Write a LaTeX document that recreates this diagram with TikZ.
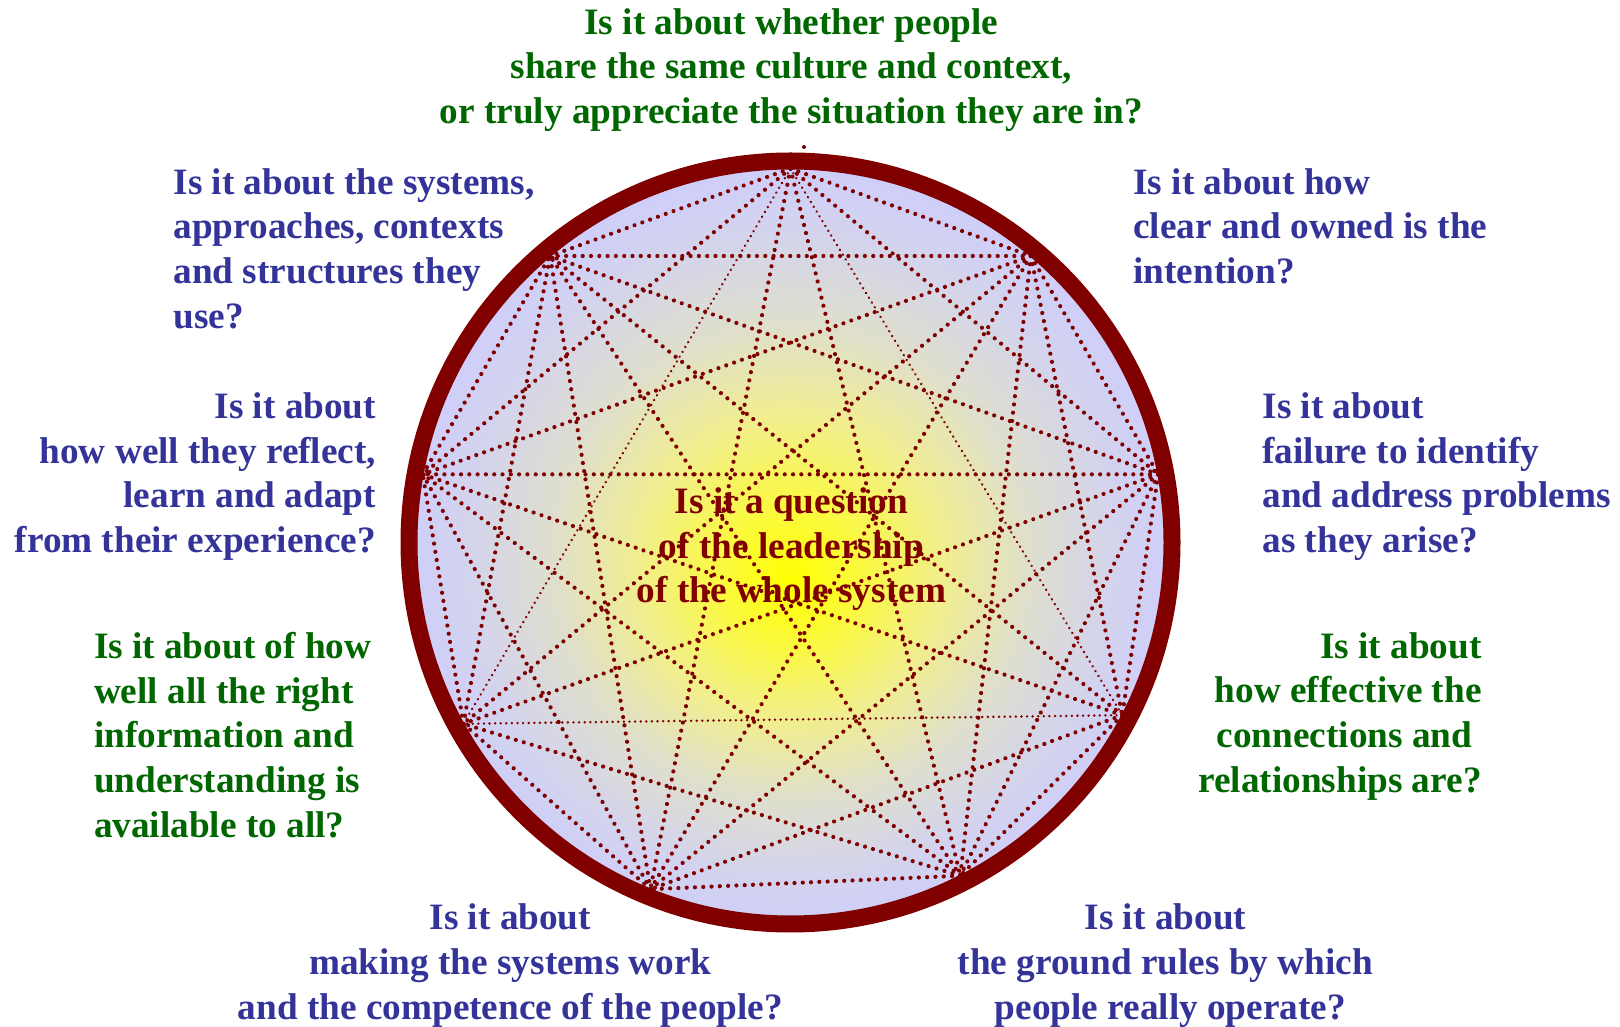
\documentclass[tikz,border=0pt]{standalone}
\usepackage{fontspec}
\setmainfont{Liberation Serif}
\usetikzlibrary{calc,decorations.markings}
\definecolor{maroonc}{RGB}{128,0,0}
\definecolor{qblue}{RGB}{51,51,153}
\definecolor{qgreen}{RGB}{0,102,0}
\pgfdeclareradialshading{glow}{\pgfpoint{0bp}{-40bp}}{rgb(0bp)=(1,1,0); rgb(75bp)=(0.98,0.975,0.27); rgb(150bp)=(0.945,0.935,0.55); rgb(235bp)=(0.875,0.875,0.80); rgb(320bp)=(0.83,0.83,0.93); rgb(400bp)=(0.8,0.8,1); rgb(450bp)=(0.8,0.8,1)}
\tikzset{
  chord/.style={decorate, decoration={markings,
      mark=between positions 0 and 1 step 8.3pt with {\fill[maroonc] (0,0) circle (2.1pt);}}},
  thinchord/.style={decorate, decoration={markings,
      mark=between positions 0 and 1 step 5.6pt with {\fill[maroonc] (0,0) circle (1.35pt);}}},
  qtext/.style={font=\bfseries\fontsize{37.25pt}{44.7pt}\selectfont, inner sep=0pt, outer sep=0pt},
  bluetext/.style={qtext, text=qblue},
  greentext/.style={qtext, text=qgreen},
  centertext/.style={qtext, text=maroonc, align=center}
}
\begin{document}
\begin{tikzpicture}[x=1pt,y=1pt]
\useasboundingbox (0,0) rectangle (1620,1026);
\coordinate (c) at (790.5,483.5);
% disc
\begin{scope}
  \clip (c) circle (381.5);
  \node[inner sep=0pt, outer sep=0pt] (disc) at (c) {\pgfuseshading{glow}};
\end{scope}
% centre text
\node[centertext, anchor=north] (core) at (791.4,538.4) {Is it a question\\of the leadership\\of the whole system};
% vertices
\foreach \i/\a in {1/90,2/50,3/10.5,4/-27.5,5/-63,6/-112,7/-151,8/169.5,9/130}
  \coordinate (v\i) at ($(c)+(\a:374)$);
% chords
\foreach \i in {1,...,8}{
  \pgfmathtruncatemacro{\s}{\i+1}
  \foreach \j in {\s,...,9}{
    \pgfmathtruncatemacro{\t}{(mod(\i,3)==1)&&(mod(\j,3)==1)}
    \ifnum\t=1 \path[thinchord] (v\i) -- (v\j); \else \path[chord] (v\i) -- (v\j); \fi
  }
}
% rim
\draw[maroonc, line width=17pt] (c) circle (381.5);
\fill[maroonc] (804,879) circle (2) coordinate (stray);
% questions
\node[greentext, align=center, anchor=north] (qtop) at (791.4,1017.8)
  {Is it about whether people\\share the same culture and context,\\or truly appreciate the situation they are in?};
\node[bluetext, align=left, anchor=north west] (qul) at (173.6,857.7)
  {Is it about the systems,\\approaches, contexts\\and structures they\\use?};
\node[bluetext, align=left, anchor=north west] (qur) at (1133.4,857.7)
  {Is it about how\\clear and owned is the\\intention?};
\node[bluetext, align=right, anchor=north east] (ql) at (376.1,633.5)
  {Is it about\\how well they reflect,\\learn and adapt\\from their experience?};
\node[bluetext, align=left, anchor=north west] (qr) at (1262.5,633.5)
  {Is it about\\failure to identify\\and address problems\\as they arise?};
\node[greentext, align=left, anchor=north west] (qll) at (94,393.8)
  {Is it about of how\\well all the right\\information and\\understanding is\\available to all?};
\node[greentext, align=right, anchor=north east] (qlr) at (1481.6,393.8)
  {Is it about\\how effective the\\connections and\hbox to 9.3pt{}\\relationships are?};
\node[bluetext, align=center, anchor=north] (qbl) at (510.4,122)
  {Is it about\\making the systems work\\and the competence of the people?};
\node[bluetext, align=center, anchor=north] (qbr) at (1165.4,122)
  {Is it about\\the ground rules by which\\\hspace*{10pt}people really operate?};
\end{tikzpicture}
\end{document}
